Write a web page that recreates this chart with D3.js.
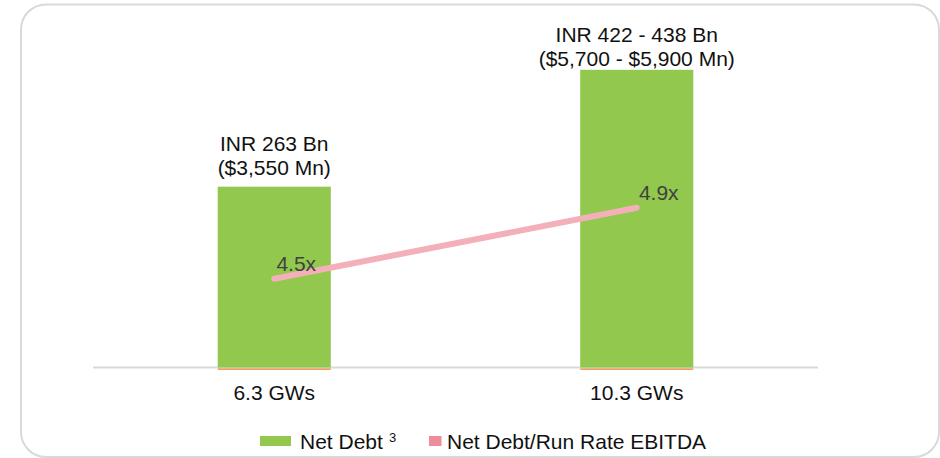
<!DOCTYPE html>
<html>
<head>
<meta charset="utf-8">
<script src="https://cdn.jsdelivr.net/npm/d3@7"></script>
<style>
  html, body { margin: 0; padding: 0; background: #fff; }
  svg { display: block; font-family: "Liberation Sans", Arial, sans-serif; }
</style>
</head>
<body>
<svg id="chart"></svg>
<script>
const WIDTH  = 940;
const HEIGHT = 458;

const categories     = ['6.3 GWs', '10.3 GWs'];
const netDebt        = [263, 433];
const netDebtLabels  = [['INR 263 Bn', '($3,550 Mn)'], ['INR 422 - 438 Bn', '($5,700 - $5,900 Mn)']];
const leverage       = [4.5, 4.9];
const leverageLabels = ['4.5x', '4.9x'];
const legendItems    = ['Net Debt', 'Net Debt/Run Rate EBITDA'];

const GREEN = '#92c84e';
const PINK  = '#f4b0b9';

const svg = d3.select('#chart')
  .attr('width', WIDTH)
  .attr('height', HEIGHT);

// rounded frame
svg.append('rect')
  .attr('x', 21).attr('y', 4.5)
  .attr('width', 918).attr('height', 452.5)
  .attr('rx', 25)
  .attr('fill', 'none')
  .attr('stroke', '#d9d9d9')
  .attr('stroke-width', 2);

const plot = { left: 93, right: 818, base: 367.5 };

const x = d3.scalePoint()
  .domain(categories)
  .range([plot.left, plot.right])
  .padding(0.5);

const y = d3.scaleLinear()
  .domain([0, 500])
  .range([plot.base, plot.base - 343.75]);

// secondary axis for the leverage line
const y2 = d3.scaleLinear()
  .domain([4, 5])
  .range([plot.base, plot.base - 177.5]);

const barWidth = x.step() * 0.312;

// baseline
svg.append('line')
  .attr('x1', plot.left).attr('x2', plot.right)
  .attr('y1', plot.base).attr('y2', plot.base)
  .attr('stroke', '#d9d9d9')
  .attr('stroke-width', 2);

const bars = svg.append('g').selectAll('g')
  .data(categories)
  .join('g');

bars.append('rect')
  .attr('x', d => x(d) - barWidth / 2)
  .attr('y', (d, i) => y(netDebt[i]))
  .attr('width', barWidth)
  .attr('height', (d, i) => plot.base - y(netDebt[i]))
  .attr('fill', GREEN);

bars.append('line')
  .attr('x1', d => x(d) - barWidth / 2)
  .attr('x2', d => x(d) + barWidth / 2)
  .attr('y1', plot.base + 1.7).attr('y2', plot.base + 1.7)
  .attr('stroke', '#ed7d31')
  .attr('stroke-width', 1.2);

// two-line labels above bars, kept inside the frame
bars.append('text')
  .attr('text-anchor', 'middle')
  .attr('font-size', 21)
  .attr('fill', '#111')
  .each(function(d, i) {
    const last = Math.max(y(netDebt[i]) - 11.7, 65.7);
    d3.select(this).selectAll('tspan')
      .data(netDebtLabels[i])
      .join('tspan')
        .attr('x', x(d))
        .attr('y', (t, j) => last - (1 - j) * 23.7)
        .text(t => t);
  });

// category labels
bars.append('text')
  .attr('x', d => x(d))
  .attr('y', 400)
  .attr('text-anchor', 'middle')
  .attr('font-size', 21)
  .attr('fill', '#111')
  .text(d => d);

// leverage line
const line = d3.line()
  .x((d, i) => x(categories[i]))
  .y(d => y2(d));

svg.append('path')
  .datum(leverage)
  .attr('d', line)
  .attr('fill', 'none')
  .attr('stroke', PINK)
  .attr('stroke-width', 6)
  .attr('stroke-linecap', 'round');

svg.append('g').selectAll('text')
  .data(leverage)
  .join('text')
    .attr('x', (d, i) => x(categories[i]) + 22)
    .attr('y', d => y2(d) - 8)
    .attr('text-anchor', 'middle')
    .attr('font-size', 21)
    .attr('fill', '#404040')
    .text((d, i) => leverageLabels[i]);

// legend
const legend = svg.append('g').attr('font-size', 21).attr('fill', '#111');

legend.append('rect')
  .attr('x', 260).attr('y', 436)
  .attr('width', 31).attr('height', 10)
  .attr('fill', GREEN);

const l1 = legend.append('text')
  .attr('x', 300).attr('y', 449)
  .text(legendItems[0]);
l1.append('tspan')
  .attr('dx', 6).attr('dy', -7)
  .attr('font-size', 13)
  .text('3');

legend.append('rect')
  .attr('x', 429).attr('y', 436)
  .attr('width', 12.5).attr('height', 10)
  .attr('fill', '#ee8d99');

legend.append('text')
  .attr('x', 447).attr('y', 449)
  .text(legendItems[1]);
</script>
</body>
</html>
